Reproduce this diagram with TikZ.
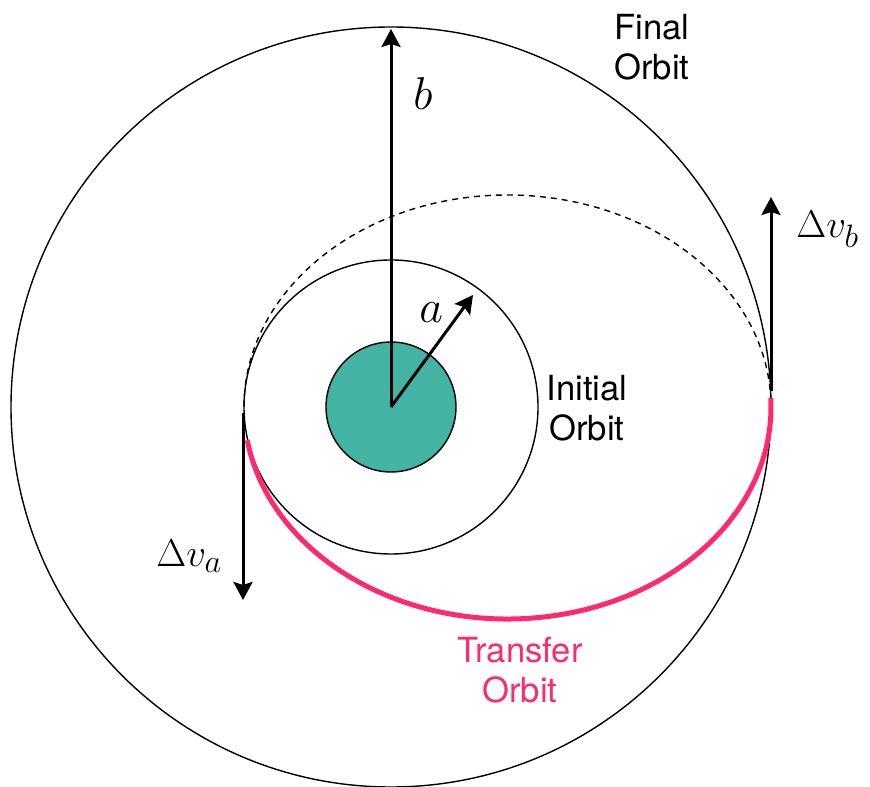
\documentclass[tikz,border=0pt]{standalone}
\usepackage{fontspec}
\setsansfont{TeX Gyre Heros}
\usetikzlibrary{arrows.meta}
\definecolor{planet}{RGB}{67,179,163}
\definecolor{transfer}{RGB}{255,41,109}
\begin{document}
\begin{tikzpicture}[x=1pt,y=1pt,
  orbit/.style={line width=1.4pt},
  vec/.style={line width=3pt,-{Stealth[length=18pt,width=19pt,inset=3pt]}},
  lbl/.style={font=\sffamily\fontsize{34.6}{40}\selectfont, align=center, inner sep=0pt},
  mlbl/.style={font=\Huge, scale=1.849, inner sep=0pt},
  dlbl/.style={font=\Huge, scale=1.56, inner sep=0pt}]
\useasboundingbox (0,0) rectangle (870,787);
\coordinate (O) at (391,380);
\coordinate (E) at (507.5,380);
% orbits
\draw[orbit] (O) circle[radius=380];
\draw[orbit] (O) circle[radius=147];
\draw[orbit, fill=planet] (O) circle[radius=65];
% transfer ellipse
\draw[line width=1.4pt, dash pattern=on 6pt off 5pt] (244,380) arc[start angle=180, end angle=0, x radius=263.5, y radius=212];
\draw[transfer, line width=5pt] ([shift={(E)}]189:263.5 and 212) arc[start angle=189, end angle=362.4, x radius=263.5, y radius=212];
% vectors
\coordinate (btip) at (391,758);
\coordinate (atip) at (473,492);
\coordinate (vaS) at (243,374);
\coordinate (vaE) at (243,187);
\coordinate (vbS) at (771,396);
\coordinate (vbE) at (771,590);
\draw[vec] (O) -- (btip);
\draw[vec] (O) -- (atip);
\draw[vec] (vaS) -- (vaE);
\draw[vec] (vbS) -- (vbE);
% labels
\node[mlbl, anchor=base west] (lb) at (413,677) {$b$};
\node[mlbl, anchor=base west] (la) at (419,464) {$a$};
\node[dlbl, anchor=base west] (lvb) at (796,549) {$\Delta v_b$};
\node[dlbl, anchor=base west] (lva) at (156,220) {$\Delta v_a$};
\node[lbl] (fin) at (652,740) {Final\\Orbit};
\node[lbl] (ini) at (587,379) {Initial\\Orbit};
\node[lbl, text=transfer] (tr) at (520,117) {Transfer\\Orbit};
\end{tikzpicture}
\end{document}
